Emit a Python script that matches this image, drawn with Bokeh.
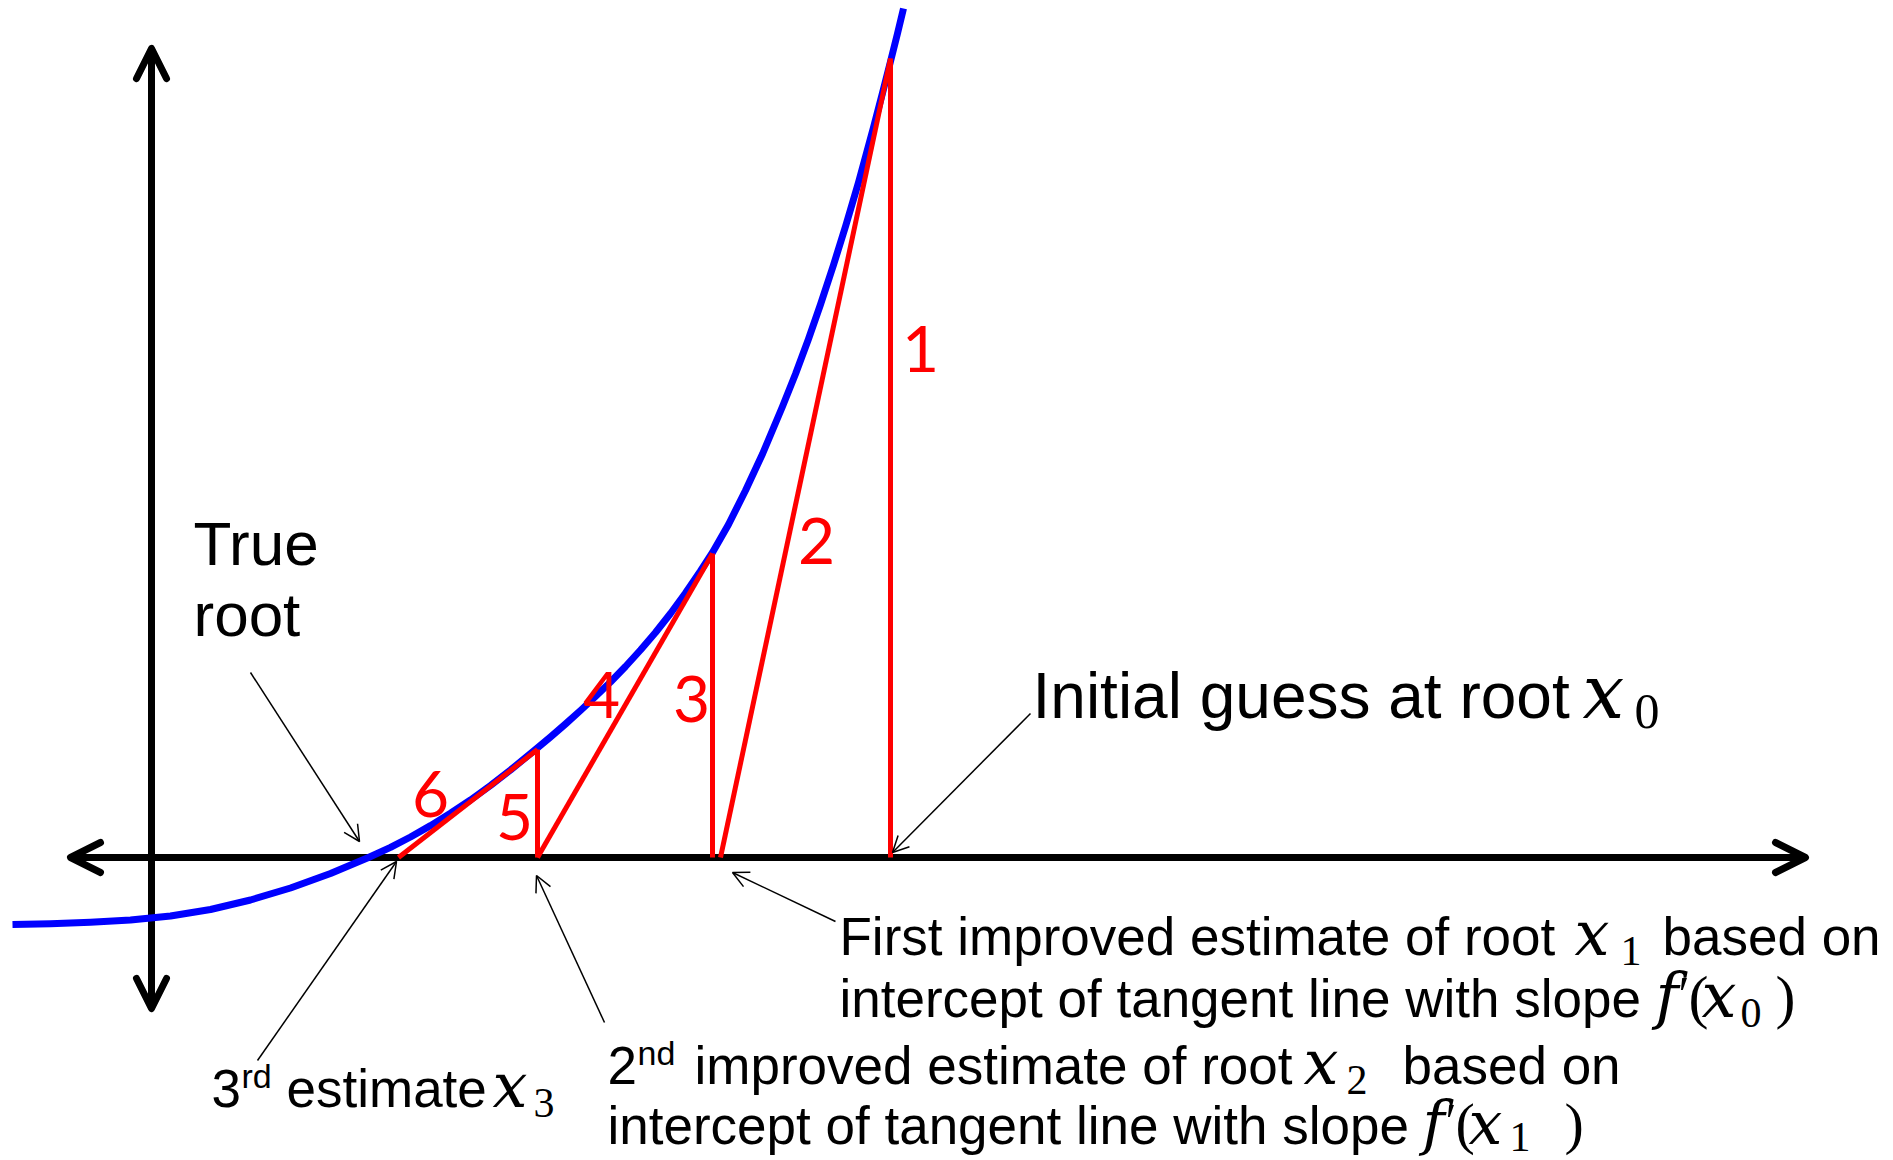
from bokeh.plotting import figure
from bokeh.models import Range1d, Arrow, OpenHead
from bokeh.core.properties import value
from bokeh.embed import file_html
from bokeh.resources import INLINE

# ---- data (1 unit = 100 px of the picture, origin where the axes cross) ----
# the function f(x)
curve_x = [-1.39, -1.01, -0.61, -0.21, 0.19, 0.59, 0.99, 1.39, 1.79, 2.17,
           2.39, 2.59, 2.79, 2.99, 3.19, 3.39, 3.59, 3.84, 3.99, 4.14,
           4.29, 4.44, 4.59, 4.74, 4.89, 5.04, 5.19, 5.34, 5.49, 5.61,
           5.77, 5.94, 6.11, 6.31, 6.44, 6.57, 6.69, 6.82, 6.94, 7.07,
           7.22, 7.31, 7.39, 7.46, 7.52]
curve_y = [-0.670, -0.663, -0.648, -0.625, -0.585, -0.520, -0.425, -0.305, -0.160, 0.000,
           0.101, 0.205, 0.319, 0.443, 0.575, 0.720, 0.875, 1.080, 1.205, 1.335,
           1.470, 1.610, 1.755, 1.910, 2.075, 2.250, 2.440, 2.645, 2.865, 3.050,
           3.330, 3.670, 4.035, 4.510, 4.835, 5.185, 5.530, 5.925, 6.310, 6.750,
           7.300, 7.645, 7.960, 8.240, 8.490]

# Newton iterations: point of tangency, f there, and where the tangent meets the axis
guess_x = [7.39, 5.61, 3.86]       # x0, x1, x2
guess_f = [7.99, 3.04, 1.08]       # f(x0), f(x1), f(x2)
intercept_x = [5.69, 3.86, 2.47]   # x1, x2, x3

step_labels = ["1", "2", "3", "4", "5", "6"]

# ---- layout helpers (picture pixels -> data units) ----
def dx(px):
    return (px - 151) / 100.0

def dy(py):
    return (857 - py) / 100.0

SANS = "Liberation Sans"
SERIF = "Liberation Serif"
MATH = "DejaVu Serif"

W, H = 1893, 1160
p = figure(width=W, height=H,
           x_range=Range1d(dx(0), dx(W)), y_range=Range1d(dy(H), dy(0)),
           x_axis_type=None, y_axis_type=None,
           output_backend="svg", toolbar_location=None, min_border=0)
p.grid.visible = False
p.outline_line_color = None
p.background_fill_color = "white"
p.border_fill_color = "white"

# ---- coordinate axes with arrow heads ----
def axis_arrow(x0, y0, x1, y1):
    head = dict(size=30, line_width=7, line_color="black",
                line_cap="round", line_join="round")
    p.add_layout(Arrow(start=OpenHead(**head), end=OpenHead(**head),
                       x_start=x0, y_start=y0, x_end=x1, y_end=y1,
                       line_width=7, line_color="black", level="underlay"))

axis_arrow(0, dy(1008), 0, dy(48))
axis_arrow(dx(70), 0, dx(1805), 0)

# ---- the function ----
p.line(curve_x, curve_y, line_color="#0000ff", line_width=7, line_join="round")

# ---- Newton steps (verticals and tangents) ----
sx0, sy0, sx1, sy1 = [], [], [], []
for gx, gf, ix in zip(guess_x, guess_f, intercept_x):
    sx0 += [gx, gx]
    sy0 += [0, gf]
    sx1 += [gx, ix]
    sy1 += [gf, 0]
p.segment(sx0, sy0, sx1, sy1, line_color="#ff0000", line_width=5)

label_px = [(920, 348), (816, 540), (691, 698), (601, 694), (514, 816), (430, 793)]
p.text(x=[dx(a) for a, b in label_px], y=[dy(b) for a, b in label_px], text=step_labels,
       text_font=value("Lato"), text_font_size="64px", text_color="#ff0000",
       text_align="center", text_baseline="middle")

# ---- annotation arrows ----
def note_arrow(x0, y0, x1, y1):
    p.add_layout(Arrow(end=OpenHead(size=16, line_width=1.5, line_color="black"),
                       x_start=dx(x0), y_start=dy(y0), x_end=dx(x1), y_end=dy(y1),
                       line_width=1.5, line_color="black"))

note_arrow(1030, 713, 892, 852)   # initial guess
note_arrow(835, 921, 732, 872)    # first improved
note_arrow(604, 1022, 536, 875)   # second improved
note_arrow(257, 1060, 396, 861)   # third estimate
note_arrow(250, 672, 359, 841)    # true root

# ---- texts (y is the middle of the em box) ----
def txt(s, xpx, ypx, size, font=SANS, style="normal", color="black"):
    p.text(x=[dx(xpx)], y=[dy(ypx)], text=[s], text_font=value(font),
           text_font_size=f"{size}px", text_font_style=style, text_color=color,
           text_align="left", text_baseline="middle")

txt("True", 193, 543, 62)
txt("root", 193, 614, 62)

txt("Initial guess at root", 1032, 695, 64)
txt("x", 1582, 691, 74, MATH, "italic")
txt("0", 1634, 711, 50, SERIF)

txt("First improved estimate of root", 839, 936, 53)
txt("x", 1574, 933, 62, MATH, "italic")
txt("1", 1620, 950, 42, SERIF)
txt("based on", 1662, 936, 53)
txt("intercept of tangent line with slope", 839, 998, 53)
txt("f", 1655, 995, 62, MATH, "italic")
txt("\u2032", 1678, 993, 50, SERIF)
txt("(", 1688, 996, 60, SERIF)
txt("x", 1701, 995, 62, MATH, "italic")
txt("0", 1740, 1012, 42, SERIF)
txt(")", 1775, 996, 60, SERIF)

txt("2", 607, 1065, 53)
txt("nd", 637, 1052, 34)
txt("improved estimate of root", 694, 1065, 53)
txt("x", 1303, 1062, 62, MATH, "italic")
txt("2", 1346, 1079, 42, SERIF)
txt("based on", 1402, 1065, 53)
txt("intercept of tangent line with slope", 607, 1125, 53)
txt("f", 1422, 1122, 60, MATH, "italic")
txt("\u2032", 1445, 1120, 50, SERIF)
txt("(", 1455, 1123, 58, SERIF)
txt("x", 1468, 1122, 60, MATH, "italic")
txt("1", 1509, 1136, 42, SERIF)
txt(")", 1564, 1123, 58, SERIF)

txt("3", 211, 1088, 53)
txt("rd", 241, 1075, 34)
txt("estimate", 286, 1088, 53)
txt("x", 492, 1085, 62, MATH, "italic")
txt("3", 533, 1102, 42, SERIF)

open("out.html", "w").write(file_html(p, INLINE))
